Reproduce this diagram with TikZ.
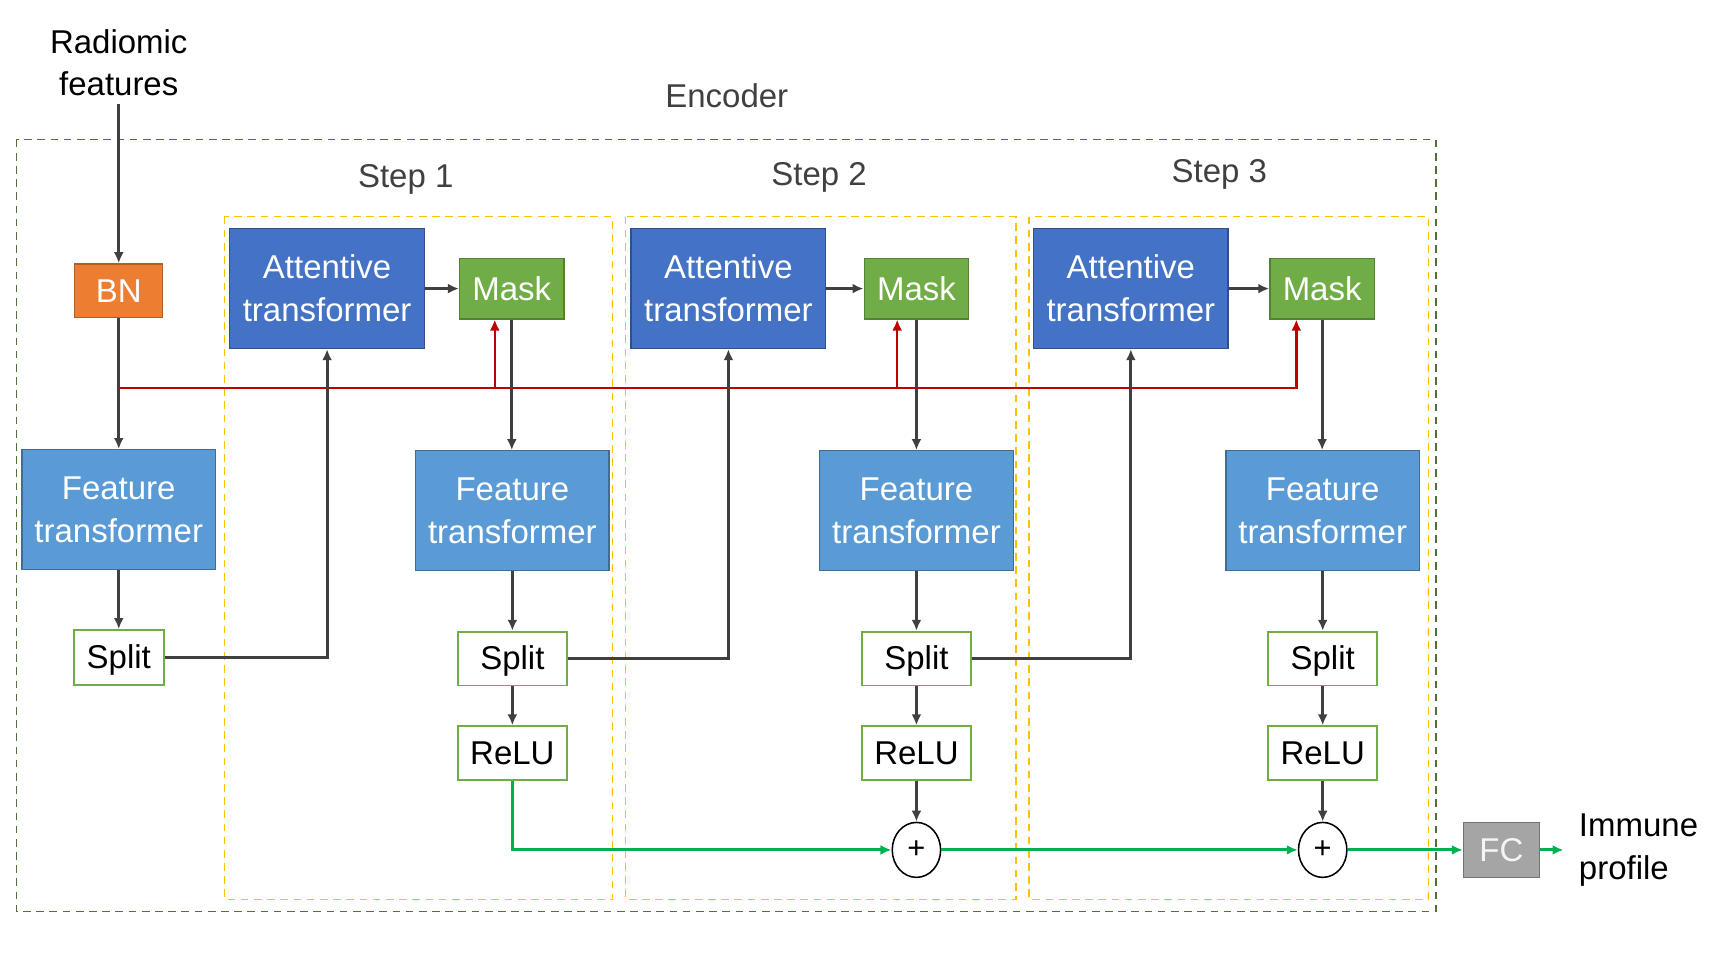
\documentclass[tikz,border=0pt]{standalone}
\usepackage{fontspec}
\setmainfont{Liberation Sans}
\usetikzlibrary{arrows.meta,calc,positioning,shapes.geometric}
\definecolor{AttBlue}{RGB}{68,114,196}
\definecolor{FeatBlue}{RGB}{91,155,213}
\definecolor{MaskGreen}{RGB}{112,173,71}
\definecolor{BNOrange}{RGB}{237,125,49}
\definecolor{LineGray}{RGB}{64,64,64}
\definecolor{SumGreen}{RGB}{0,176,80}
\definecolor{RedLine}{RGB}{192,0,0}
\definecolor{StepYellow}{RGB}{255,192,0}
\definecolor{EncGreen}{RGB}{84,110,60}
\definecolor{FCGray}{RGB}{165,165,165}
\tikzset{
  blk/.style={draw,line width=.6pt,align=center,inner sep=0pt,
    font=\fontsize{15}{19.5}\selectfont},
  att/.style={blk,fill=AttBlue,draw=AttBlue!70!black,text=white,
    minimum width=88.5pt,minimum height=54.5pt},
  feat/.style={blk,fill=FeatBlue,draw=FeatBlue!70!black,text=white,
    minimum width=88pt,minimum height=54.5pt},
  maskbox/.style={blk,fill=MaskGreen,draw=MaskGreen!75!black,text=white,
    minimum width=47.5pt,minimum height=27.5pt},
  opbox/.style={blk,fill=white,draw=MaskGreen,line width=.8pt,
    text height=11pt,text depth=1pt,
    minimum width=49.5pt,minimum height=24.5pt},
  sumnode/.style={ellipse,draw,line width=.7pt,fill=white,inner sep=0pt,
    minimum width=22pt,minimum height=25pt,font=\fontsize{14}{16}\selectfont},
  lbl/.style={align=center,font=\fontsize{15}{19.5}\selectfont},
  darkl/.style={LineGray,line width=1.3pt},
  redl/.style={RedLine,line width=1.1pt},
  grnl/.style={SumGreen,line width=1.3pt},
}
\begin{document}
\begin{tikzpicture}[x=.5pt,y=.5pt,>={Latex[length=5pt,width=4.5pt]}]
\useasboundingbox (0,0) rectangle (1568,-870);
% frames
\draw[EncGreen,line width=.6pt,dash pattern=on 3.5pt off 2.5pt] (15,-127) rectangle (1306,-829);
\node[lbl,text=LineGray] (enc) at (661,-87) {Encoder};
\foreach \l/\r/\sx/\sy/\n in {204/557/369/163/1, 569/924/745/161/2, 936/1299/1109/159/3}{
  \draw[StepYellow,line width=.6pt,dash pattern=on 3.5pt off 2.5pt] (\l,-197) rectangle (\r,-818);
  \node[lbl,text=LineGray] (step\n) at (\sx,-\sy) {Step \n};
}
% input column
\node[lbl] (radio) at (108,-57) {Radiomic\\features};
\node[blk,fill=BNOrange,draw=BNOrange!75!black,text=white,
  minimum width=40pt,minimum height=24.5pt] (bn) at (108,-264.5) {BN};
\node[feat] (ft0) at (108,-463.5) {Feature\\transformer};
\node[opbox,minimum width=41pt,minimum height=25pt] (split0) at (108,-598) {Split};
% decision steps
\foreach \i/\ax/\mx/\cx/\ro in {1/297.5/465.5/466/7.75, 2/662.5/833.5/833.5/8.75, 3/1028.5/1202.5/1203/11.75}{
  \node[att] (att\i) at (\ax,-262.5) {Attentive\\transformer};
  \node[maskbox] (mask\i) at (\mx,-262.5) {Mask};
  \node[feat] (ft\i) at (\cx,-464.5) {Feature\\transformer};
  \node[opbox] (split\i) at (\cx,-599) {Split};
  \node[opbox] (relu\i) at (\cx,-685) {ReLU};
  \coordinate (red\i) at ([xshift=-\ro pt]mask\i.south);
}
\node[sumnode] (sum2) at (833.5,-773) {+};
\node[sumnode] (sum3) at (1203,-773) {+};
\node[blk,fill=FCGray,draw=FCGray!70!black,text=white!92!gray,
  minimum width=34.5pt,minimum height=25pt] (fc) at (1365.5,-773) {FC};
\node[lbl,align=left,anchor=west] (out) at (1429,-773) {Immune\\profile};
\coordinate (outend) at (1422,-773);
\coordinate (rj) at (108,-353);
% connectors
\draw[darkl,->] (radio.south) -- (bn.north);
\draw[darkl,->] (bn) -- (ft0);
\draw[darkl,->] (ft0) -- (split0);
\draw[redl,->] (rj) -| (red3);
\draw[redl,->] (red1 |- rj) -- (red1);
\draw[redl,->] (red2 |- rj) -- (red2);
\draw[darkl,->] (split0) -| (att1);
\draw[darkl,->] (split1) -| (att2);
\draw[darkl,->] (split2) -| (att3);
\foreach \i in {1,2,3}{
  \draw[darkl,->] (att\i) -- (mask\i);
  \draw[darkl,->] (mask\i.south) -- (mask\i.south |- ft\i.north);
  \draw[darkl,->] (ft\i) -- (split\i);
  \draw[darkl,->] (split\i) -- (relu\i);
}
\draw[darkl,->] (relu2) -- (sum2);
\draw[darkl,->] (relu3) -- (sum3);
\draw[grnl,->] (relu1) |- (sum2);
\draw[grnl,->] (sum2) -- (sum3);
\draw[grnl,->] (sum3) -- (fc);
\draw[grnl,->] (fc) -- (outend);
\end{tikzpicture}
\end{document}
